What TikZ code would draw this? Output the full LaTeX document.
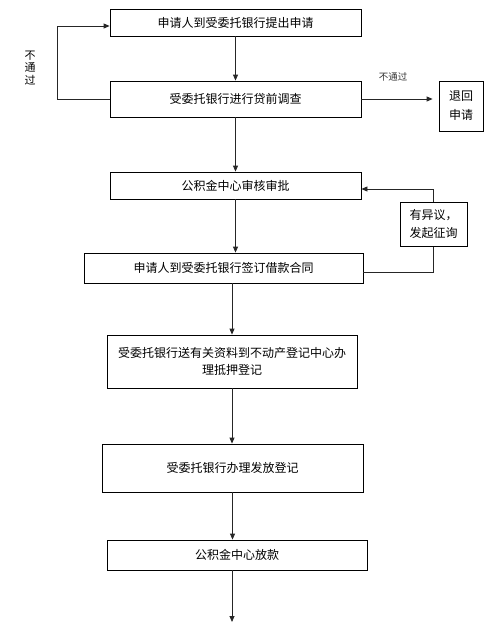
\documentclass[tikz,border=0pt]{standalone}
\usepackage{fontspec}
\setmainfont{Noto Sans CJK SC}
\usetikzlibrary{arrows.meta}
\begin{document}
\begin{tikzpicture}[x=1pt,y=-1pt,
  stepbox/.style={draw=black,line width=0.8pt,fill=white,inner sep=0pt,align=center,
    font=\fontsize{12}{17}\selectfont,text=black},
  arr/.style={draw=black!85,line width=0.8pt,-{Triangle[length=6pt,width=5pt]}},
  lbl/.style={inner sep=0pt,text=black,align=center}]
\useasboundingbox (0,0) rectangle (500,624);
\node[stepbox,minimum width=251pt,minimum height=27pt] (b1) at (235.5,22.5) {申请人到受委托银行提出申请};
\node[stepbox,minimum width=251pt,minimum height=36pt] (b2) at (235.5,99) {受委托银行进行贷前调查};
\node[stepbox,minimum width=251pt,minimum height=27pt] (b3) at (235.5,185.5) {公积金中心审核审批};
\node[stepbox,minimum width=279pt,minimum height=30pt] (b4) at (223.5,268) {申请人到受委托银行签订借款合同};
\node[stepbox,minimum width=250pt,minimum height=53pt] (b5) at (232,361.5) {受委托银行送有关资料到不动产登记中心办\\理抵押登记};
\node[stepbox,minimum width=261pt,minimum height=48pt] (b6) at (232.5,468) {受委托银行办理发放登记};
\node[stepbox,minimum width=260pt,minimum height=30pt] (b7) at (237,555) {公积金中心放款};
\node[stepbox,minimum width=44pt,minimum height=50pt,font=\fontsize{12}{19}\selectfont] (ret) at (461,106) {退回\\申请};
\coordinate (end) at (232,622);
% arrows
\draw[arr] (b1.south) -- (b2.north);
\draw[arr] (b2.south) -- (b3.north);
\draw[arr] (b3.south) -- (b3.south |- b4.north);
\draw[arr] (b5.north |- b4.south) -- (b5.north);
\draw[arr] (b5.south) -- (b5.south |- b6.north);
\draw[arr] (b6.south) -- (b6.south |- b7.north);
\draw[arr] (end |- b7.south) -- (end);
% loops
\draw[arr] (b2.west) -- ++(-52,0) |- ([yshift=-3.5pt]b1.west);
\draw[arr,shorten >=6pt] (b2.east) -- (ret.west |- b2.east);
\draw[arr] ([yshift=-4pt]b4.east) -- ++(70,0) |- ([yshift=-3.5pt]b3.east);
\node[stepbox,minimum width=67pt,minimum height=44pt,font=\fontsize{12}{18}\selectfont] (ask) at (433.5,224) {有异议，\\发起征询};
% labels
\node[lbl,font=\fontsize{9.5}{11}\selectfont,text=black!80] (l1) at (393,77) {不通过};
\node[lbl,font=\fontsize{11}{12.5}\selectfont] (l2) at (30,68) {不\\通\\过};
\end{tikzpicture}
\end{document}
